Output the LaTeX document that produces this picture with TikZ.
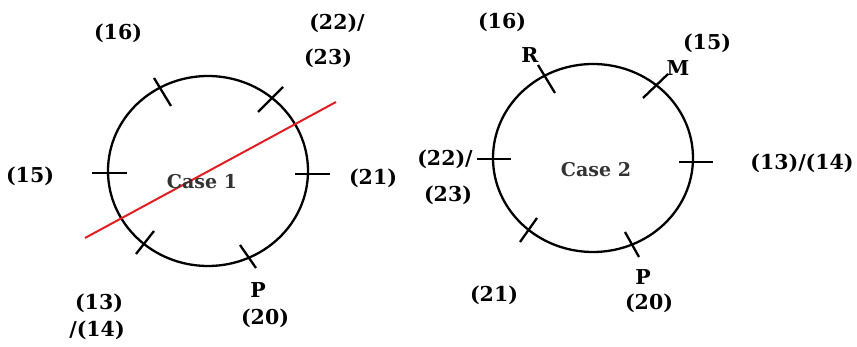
\documentclass[tikz,border=0pt]{standalone}
\usepackage{fontspec}
\setmainfont{DejaVu Serif}
\begin{document}
\begin{tikzpicture}[x=1pt,y=-1pt,
  ring/.style={draw=black,line width=2.3pt},
  tick/.style={draw=black,line width=2.3pt},
  lbl/.style={font=\fontsize{20.5}{23}\selectfont\bfseries,inner sep=0pt},
  casel/.style={font=\fontsize{19}{21}\selectfont\bfseries,text=black!80,inner sep=0pt},
  cut/.style={draw={rgb,255:red,225;green,30;blue,35},line width=2pt}]
\useasboundingbox (0,0) rectangle (857,347);
% ---- Case 1 ----
\draw[ring] (208,171) ellipse [x radius=100, y radius=95];
\draw[tick] (154,78) -- (171,106);
\draw[tick] (283,87) -- (258,112);
\draw[tick] (92,173) -- (127,173);
\draw[tick] (295,174) -- (330,174);
\draw[tick] (154,231) -- (136,254);
\draw[tick] (240,245) -- (256,268);
\coordinate (c1a) at (85,238);
\coordinate (c1b) at (336,102);
\draw[cut] (c1a) -- (c1b);
\node[casel] (case1) at (202,182) {Case 1};
\node[lbl] (l16) at (118,33) {(16)};
\node[lbl] (l22) at (337,23) {(22)/};
\node[lbl] (l23) at (328,58) {(23)};
\node[lbl] (l15) at (30,176) {(15)};
\node[lbl] (l21) at (373,178) {(21)};
\node[lbl] (l13) at (99,303) {(13)};
\node[lbl] (l14) at (97,330) {/(14)};
\node[lbl] (lP) at (258,290) {P};
\node[lbl] (l20) at (265,318) {(20)};
% ---- Case 2 ----
\draw[ring] (593,158) ellipse [x radius=100, y radius=94];
\draw[tick] (538,65) -- (555,93);
\draw[tick] (668,74) -- (643,98);
\draw[tick] (477,159) -- (511,159);
\draw[tick] (679,162) -- (713,162);
\draw[tick] (537,218) -- (520,242);
\draw[tick] (625,232) -- (639,257);
\node[casel] (case2) at (596,170) {Case 2};
\node[lbl] (r16) at (502,22) {(16)};
\node[lbl] (rR) at (530,55) {R};
\node[lbl] (r15) at (707,43) {(15)};
\node[lbl] (rM) at (678,68) {M};
\node[lbl] (r22) at (445,159) {(22)/};
\node[lbl] (r23) at (448,195) {(23)};
\node[lbl] (r13) at (802,163) {(13)/(14)};
\node[lbl] (r21) at (494,295) {(21)};
\node[lbl] (rP) at (643,277) {P};
\node[lbl] (r20) at (649,303) {(20)};
\end{tikzpicture}
\end{document}
